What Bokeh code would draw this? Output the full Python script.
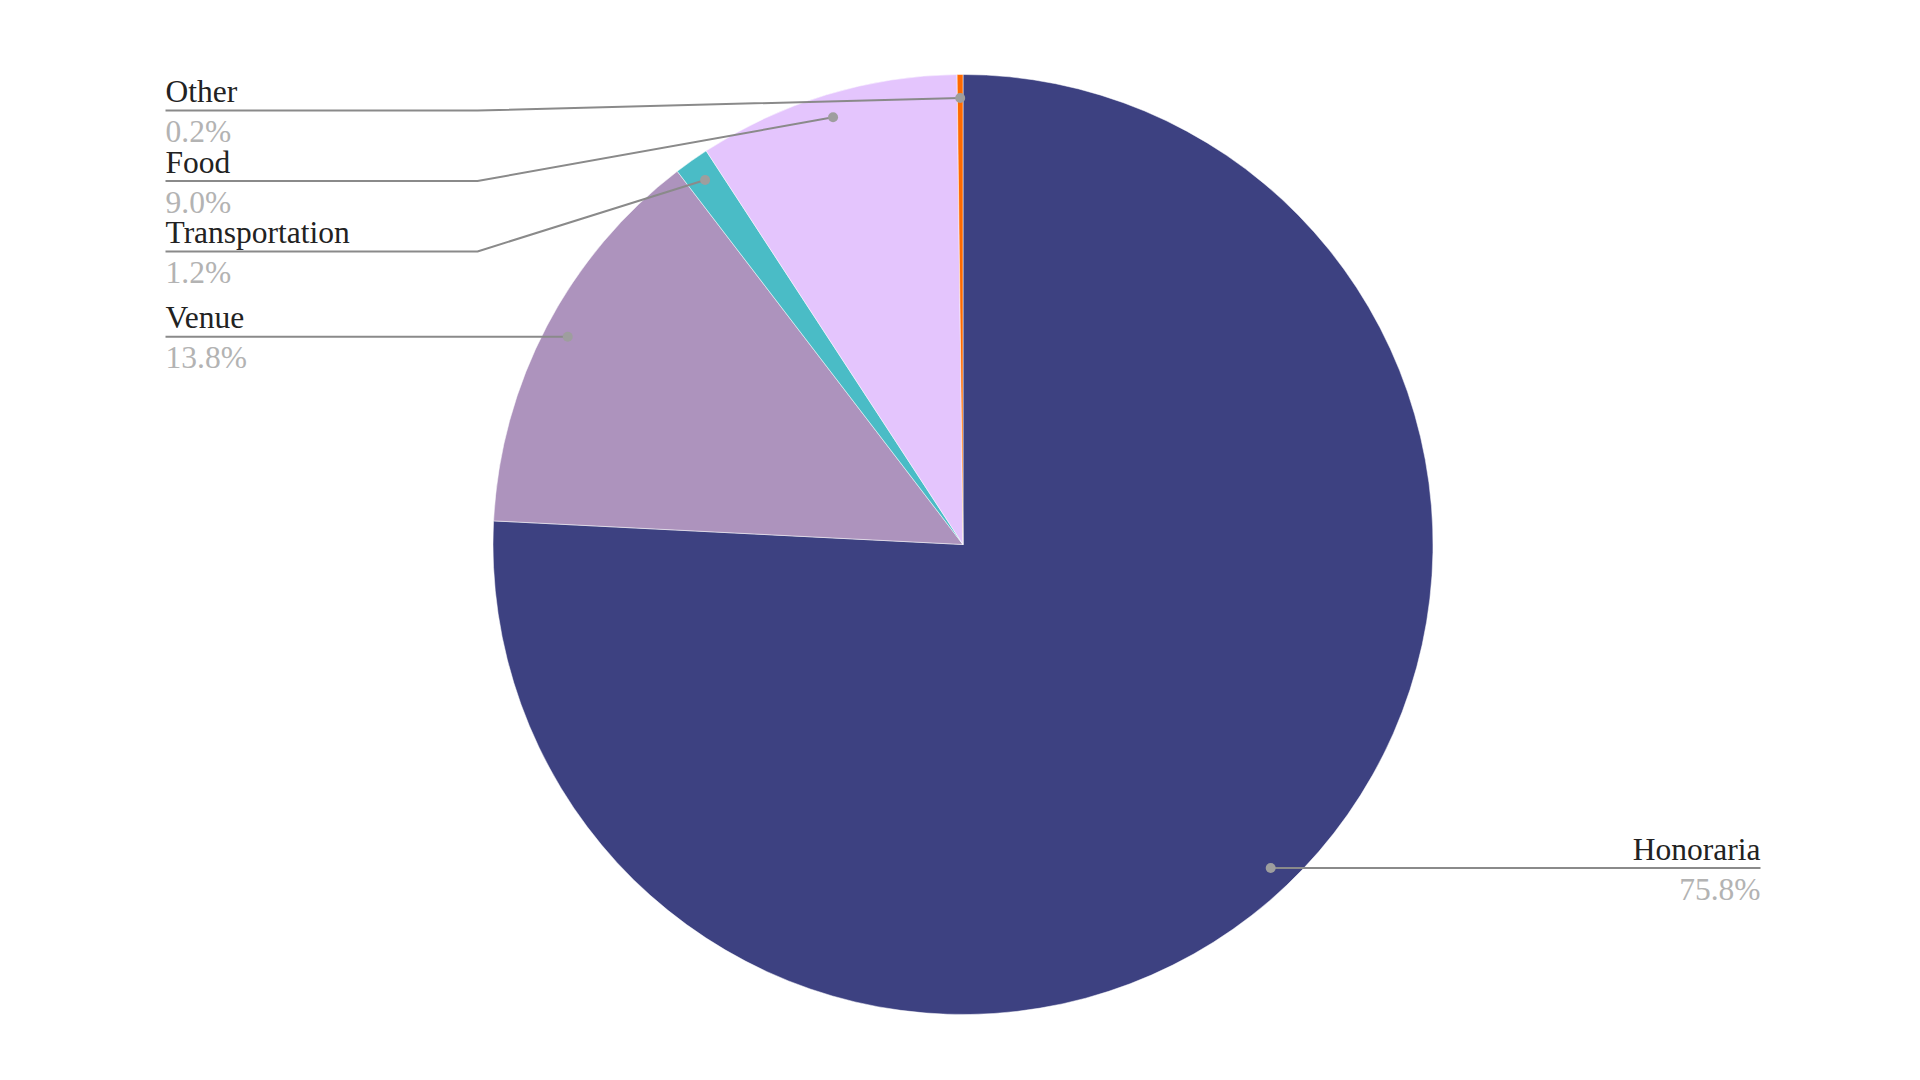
import math
from bokeh.plotting import figure
from bokeh.models import Range1d, ColumnDataSource
from bokeh.embed import file_html
from bokeh.resources import INLINE
from bokeh.core.properties import value

# ---- data ----
categories = ["Honoraria", "Venue", "Transportation", "Food", "Other"]
shares = [75.8, 13.8, 1.2, 9.0, 0.2]
colors = ["#3d4181", "#ad93bd", "#4abcc6", "#e4c5fd", "#ff6a00"]

# ---- layout ----
W, H = 1904, 1064
CX, CY_PAGE, R = 962.5, 544, 470
DOT_FRAC = 0.95
LEFT_X, LEFT_BEND = 165, 477
RIGHT_X, RIGHT_BEND = 1760, 1448
TOP_SLOT, SLOT_GAP = 110, 70.5
FONT = value("Liberation Serif")
FS = "31.5px"


def py(page_y):
    return H - page_y


p = figure(width=W, height=H, x_range=Range1d(0, W), y_range=Range1d(0, H),
           output_backend="svg", toolbar_location=None, min_border=0)
p.axis.visible = False
p.grid.visible = False
p.outline_line_color = None
p.background_fill_color = "white"
p.border_fill_color = "white"

total = sum(shares)
cy = py(CY_PAGE)
starts, ends, mids = [], [], []
cum = 0.0
for s in shares:
    a0 = math.pi / 2 - 2 * math.pi * cum / total
    a1 = math.pi / 2 - 2 * math.pi * (cum + s) / total
    starts.append(a0)
    ends.append(a1)
    mids.append((a0 + a1) / 2)
    cum += s

src = ColumnDataSource(dict(start=starts, end=ends, color=colors, cat=categories))
p.wedge(x=CX, y=cy, radius=R, radius_units="data", start_angle="start", end_angle="end",
        direction="clock", fill_color="color", line_color="white", line_width=0.5, source=src)

# leader dots
dots = []
for i, m in enumerate(mids):
    dx = CX + DOT_FRAC * R * math.cos(m)
    dy_page = CY_PAGE - DOT_FRAC * R * math.sin(m)
    dots.append((dx, dy_page, i))

left = sorted([d for d in dots if d[0] < CX], key=lambda d: d[1])
right = sorted([d for d in dots if d[0] >= CX], key=lambda d: d[1])

xs, ys = [], []
tx, ty, tt, talign, tcol = [], [], [], [], []
prev = TOP_SLOT - SLOT_GAP
for dx, dyp, i in left:
    ly = max(dyp, prev + SLOT_GAP)
    prev = ly
    xs.append([LEFT_X, LEFT_BEND, dx])
    ys.append([py(ly), py(ly), py(dyp)])
    tx += [LEFT_X, LEFT_X]
    ty += [py(ly - 19), py(ly + 21)]
    tt += [categories[i], f"{shares[i] / total * 100:.1f}%"]
    talign += ["left", "left"]
    tcol += ["#222222", "#b3b3b3"]
for dx, dyp, i in right:
    ly = dyp
    xs.append([RIGHT_X, RIGHT_BEND, dx])
    ys.append([py(ly), py(ly), py(dyp)])
    tx += [RIGHT_X, RIGHT_X]
    ty += [py(ly - 19), py(ly + 21)]
    tt += [categories[i], f"{shares[i] / total * 100:.1f}%"]
    talign += ["right", "right"]
    tcol += ["#222222", "#b3b3b3"]

p.multi_line(xs, ys, line_color="#8a8a8a", line_width=2)
p.scatter([d[0] for d in dots], [py(d[1]) for d in dots], size=10,
          fill_color="#9e9e9e", line_color=None)

tsrc = ColumnDataSource(dict(x=tx, y=ty, t=tt, a=talign, c=tcol))
p.text(x="x", y="y", text="t", text_align="a", text_color="c", text_baseline="alphabetic",
       text_font=FONT, text_font_size=FS, source=tsrc)

open("out.html", "w").write(file_html(p, INLINE))
